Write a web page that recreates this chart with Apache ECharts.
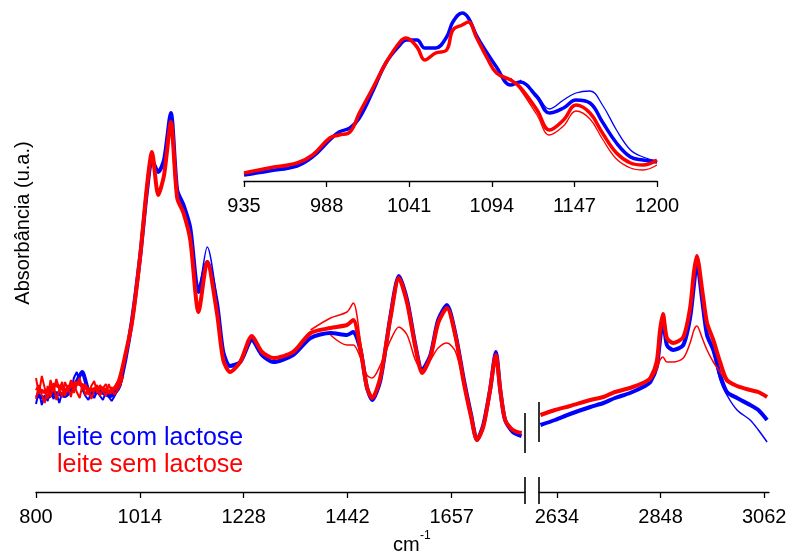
<!DOCTYPE html>
<html>
<head>
<meta charset="utf-8">
<script src="https://cdn.jsdelivr.net/npm/echarts@6/dist/echarts.min.js"></script>
<style>html,body{margin:0;padding:0;background:#fff}#c{width:793px;height:557px}</style>
</head>
<body>
<div id="c"></div>
<script>
// ---- tick labels ----
const leftTicks = [800, 1014, 1228, 1442, 1657];
const rightTicks = [2634, 2848, 3062];
const insetTicks = [935, 988, 1041, 1094, 1147, 1200];

// ---- main spectrum, 800-1810 cm-1 ----
const leftWn = [800,819,840,860,881,895,912,933,953,970,984,998,1015,1029,1039,1052,1064,1078,1091,1104,1118,1135,1153,1173,1186,1200,1221,1245,1266,1289,1330,1366,1407,1441,1454,1469,1482,1493,1510,1531,1548,1565,1582,1596,1613,1629,1647,1665,1682,1697,1709,1722,1736,1748,1757,1767,1783,1801];
const leftRed = [1.04,1.00,1.07,1.02,1.09,1.07,1.02,1.04,1.00,1.10,1.37,1.70,2.37,3.07,3.40,2.97,3.17,3.70,2.94,2.79,2.52,1.80,2.30,1.79,1.32,1.20,1.30,1.56,1.40,1.34,1.40,1.59,1.64,1.67,1.72,1.42,1.05,0.94,1.15,1.75,2.14,1.89,1.45,1.19,1.35,1.69,1.84,1.55,1.09,0.75,0.52,0.65,1.02,1.37,1.02,0.72,0.62,0.59];
const leftBlue = [0.97,0.94,0.99,0.96,1.08,1.20,0.99,1.00,0.96,1.04,1.32,1.72,2.37,3.02,3.32,3.20,3.32,3.79,3.02,2.87,2.64,2.00,2.30,1.89,1.40,1.26,1.30,1.52,1.37,1.30,1.37,1.54,1.59,1.57,1.60,1.42,1.05,0.92,1.12,1.77,2.16,1.92,1.47,1.22,1.37,1.72,1.87,1.57,1.12,0.77,0.52,0.67,1.02,1.40,1.02,0.72,0.60,0.56];

// noisy low-wavenumber samples
const noiseWn = [800,806,812,818,824,830,836,842,848,854,860,866,872,878,884,890,896,902,908,914,920,926,932,938,944,950,956,962,968,974,980];
const noiseRed1 = [1.14,0.98,1.16,1.04,0.93,1.12,1.00,1.13,1.03,0.95,1.10,1.01,1.12,0.99,1.07,1.14,1.02,1.08,0.97,1.06,1.11,0.99,1.07,1.01,0.96,1.08,1.00,1.05,1.10,1.14,1.24];
const noiseRed2 = [0.93,1.07,0.97,0.89,1.06,0.95,1.09,0.92,1.03,1.10,0.96,1.07,0.95,1.09,1.00,0.94,1.08,0.97,1.04,0.93,1.01,1.07,0.96,1.04,1.08,0.98,1.05,0.97,1.02,1.07,1.16];
const noiseBlue1 = [0.88,1.01,0.87,0.97,0.91,1.03,0.93,0.99,0.89,1.00,0.95,1.05,0.99,1.14,1.20,1.10,1.02,0.96,0.92,1.00,0.94,1.01,0.96,0.92,1.00,0.95,0.91,0.96,1.02,1.06,1.18];

// outlier samples (partial ranges)
const redLowWn = [1407,1441,1454,1469,1482,1493,1510,1531,1548,1565,1582,1596,1613,1629,1647,1665,1682,1697];
const redLowVal = [1.57,1.47,1.47,1.34,1.17,1.14,1.27,1.52,1.65,1.57,1.32,1.22,1.32,1.44,1.49,1.40,1.07,0.75];
const redHighWn = [1366,1407,1441,1454,1469,1482];
const redHighVal = [1.62,1.74,1.80,1.89,1.50,1.08];
const blueHighWn = [1104,1118,1135,1153,1173,1186];
const blueHighVal = [2.87,2.64,2.02,2.45,1.92,1.40];

// ---- main spectrum, 2600-3072 cm-1 ----
const rightWn = [2600,2630,2661,2703,2730,2754,2785,2816,2827,2840,2847,2853,2861,2874,2895,2909,2917,2923,2934,2944,2957,2971,2985,3006,3033,3050,3068];
const rightRed = [0.77,0.82,0.86,0.92,0.95,1.00,1.04,1.10,1.14,1.30,1.62,1.78,1.54,1.49,1.55,1.84,2.20,2.36,2.02,1.69,1.52,1.30,1.12,1.06,1.02,1.00,0.95];
const rightBlue = [0.67,0.72,0.78,0.85,0.89,0.94,0.99,1.06,1.10,1.25,1.52,1.74,1.47,1.42,1.47,1.74,2.07,2.30,1.92,1.57,1.42,1.17,1.00,0.94,0.87,0.82,0.72];
const blueTailWn = [2944,2957,2971,2985,3006,3033,3050,3068];
const blueTailVal = [1.55,1.40,1.12,0.97,0.82,0.72,0.62,0.50];
const redLowRWn = [2816,2827,2840,2847,2853,2861,2874,2895,2909,2917,2923,2934,2944,2957,2971,2985];
const redLowRVal = [1.10,1.12,1.22,1.32,1.35,1.30,1.30,1.34,1.49,1.62,1.66,1.54,1.42,1.30,1.20,1.10];

// ---- inset, 935-1200 cm-1 ----
const insetWn = [935,951,969,979,990,996,1003,1009,1018,1026,1035,1039,1046,1051,1058,1065,1069,1075,1079,1084,1091,1097,1106,1112,1123,1131,1140,1148,1157,1165,1174,1183,1191,1200];
const insetRed = [0.08,0.13,0.18,0.26,0.43,0.46,0.49,0.68,0.94,1.18,1.39,1.43,1.34,1.21,1.28,1.31,1.51,1.56,1.59,1.44,1.23,1.08,1.01,0.94,0.71,0.51,0.61,0.76,0.68,0.48,0.28,0.18,0.16,0.21];
const insetBlue = [0.06,0.10,0.15,0.24,0.41,0.49,0.53,0.63,0.91,1.18,1.36,1.41,1.41,1.33,1.33,1.44,1.59,1.68,1.63,1.46,1.28,1.14,0.96,0.99,0.84,0.68,0.73,0.81,0.78,0.59,0.38,0.24,0.21,0.19];
const insetBlueHighWn = [1112,1123,1131,1140,1148,1157,1165,1174,1183,1191,1200];
const insetBlueHighVal = [1.01,0.86,0.72,0.81,0.88,0.90,0.76,0.51,0.31,0.24,0.20];
const insetRedLowWn = [1106,1112,1123,1131,1140,1148,1157,1165,1174,1183,1191,1200];
const insetRedLowVal = [1.03,0.92,0.66,0.46,0.55,0.70,0.62,0.42,0.22,0.13,0.11,0.16];

const BLUE = '#0000ff', RED = '#ff0000';
const FONT = 'Liberation Sans, Arial, sans-serif';

function pairs(xs, ys) { return xs.map((x, i) => [x, ys[i]]); }
function line(name, xs, ys, color, width, gi, smooth) {
  return {
    name: name, type: 'line', xAxisIndex: gi, yAxisIndex: gi,
    data: pairs(xs, ys), symbol: 'none', smooth: smooth,
    lineStyle: { color: color, width: width }, itemStyle: { color: color },
    silent: true, animation: false
  };
}
function xAx(gi, min, max, ticks) {
  return {
    gridIndex: gi, type: 'value', min: min, max: max,
    axisLine: { show: true, onZero: false, lineStyle: { color: '#000', width: 1.3 } },
    axisTick: { show: true, inside: false, length: 6, customValues: ticks, lineStyle: { color: '#000', width: 1.3 } },
    axisLabel: { customValues: ticks, fontSize: 20, color: '#000', margin: 15, fontFamily: FONT, formatter: v => String(v) },
    splitLine: { show: false }
  };
}
function yAx(gi, max) {
  return { gridIndex: gi, type: 'value', min: 0, max: max, show: false, splitLine: { show: false } };
}

const chart = echarts.init(document.getElementById('c'), null, { renderer: 'canvas' });

const series = [
  // left main segment (grid 0)
  line('com2', noiseWn, noiseBlue1, BLUE, 2, 0, 0),
  line('comHigh', blueHighWn, blueHighVal, BLUE, 1.5, 0, 0.3),
  line('leite com lactose', leftWn, leftBlue, BLUE, 4, 0, 0.25),
  line('sem1', noiseWn, noiseRed1, RED, 2, 0, 0),
  line('sem2', noiseWn, noiseRed2, RED, 2, 0, 0),
  line('leite sem lactose', leftWn, leftRed, RED, 4, 0, 0.25),
  line('semLow', redLowWn, redLowVal, RED, 1.5, 0, 0.3),
  line('semHigh', redHighWn, redHighVal, RED, 1.5, 0, 0.3),
  // right main segment (grid 1)
  line('comTail', blueTailWn, blueTailVal, BLUE, 1.5, 1, 0.3),
  line('com R', rightWn, rightBlue, BLUE, 4, 1, 0.25),
  line('sem R', rightWn, rightRed, RED, 4, 1, 0.25),
  line('semLowR', redLowRWn, redLowRVal, RED, 1.5, 1, 0.3),
  // inset (grid 2)
  line('comHighI', insetBlueHighWn, insetBlueHighVal, BLUE, 1.3, 2, 0.4),
  line('com I', insetWn, insetBlue, BLUE, 3.5, 2, 0.4),
  line('sem I', insetWn, insetRed, RED, 3.5, 2, 0.4),
  line('semLowI', insetRedLowWn, insetRedLowVal, RED, 1.3, 2, 0.4)
];

const breakStyle = { stroke: '#000', lineWidth: 1.6 };
chart.setOption({
  backgroundColor: '#fff',
  animation: false,
  grid: [
    { left: 36, width: 489, top: 92, height: 400 },
    { left: 539, width: 230, top: 92, height: 400 },
    { left: 244, width: 413, top: 1, height: 180 }
  ],
  xAxis: [
    xAx(0, 800, 1808, leftTicks),
    xAx(1, 2597, 3072, rightTicks),
    xAx(2, 935, 1200, insetTicks)
  ],
  yAxis: [yAx(0, 4), yAx(1, 4), yAx(2, 1.8)],
  series: series,
  graphic: [
    { type: 'line', shape: { x1: 525, y1: 413, x2: 525, y2: 453 }, style: breakStyle, silent: true },
    { type: 'line', shape: { x1: 539, y1: 402, x2: 539, y2: 442 }, style: breakStyle, silent: true },
    { type: 'line', shape: { x1: 525, y1: 477, x2: 525, y2: 504 }, style: breakStyle, silent: true },
    { type: 'line', shape: { x1: 539, y1: 477, x2: 539, y2: 504 }, style: breakStyle, silent: true },
    { type: 'text', x: 57, y: 438, style: { text: 'leite com lactose', fill: BLUE, font: '25px ' + FONT, verticalAlign: 'middle' }, silent: true },
    { type: 'text', x: 57, y: 465, style: { text: 'leite sem lactose', fill: RED, font: '25px ' + FONT, verticalAlign: 'middle' }, silent: true },
    { type: 'text', x: 23, y: 223, rotation: Math.PI / 2, style: { text: 'Absorbância (u.a.)', fill: '#000', font: '20px ' + FONT, align: 'center', verticalAlign: 'middle' }, silent: true },
    { type: 'text', x: 393, y: 545, style: { text: 'cm', fill: '#000', font: '20px ' + FONT, verticalAlign: 'middle' }, silent: true },
    { type: 'text', x: 420, y: 536, style: { text: '-1', fill: '#000', font: '12px ' + FONT, verticalAlign: 'middle' }, silent: true }
  ]
});
</script>
</body>
</html>
